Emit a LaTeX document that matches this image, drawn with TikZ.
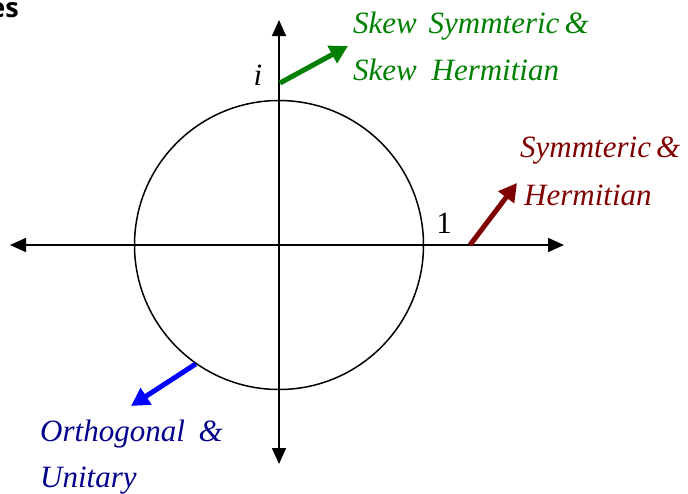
\documentclass[tikz,border=0pt]{standalone}
\usepackage{fontspec}
\setmainfont{Liberation Serif}
\newfontfamily\headfont{Open Sans}
\usetikzlibrary{arrows.meta}
\definecolor{skewgreen}{RGB}{0,128,0}
\definecolor{symred}{RGB}{128,0,0}
\definecolor{orthtext}{RGB}{0,0,140}
\definecolor{ortharrow}{RGB}{0,0,255}
\begin{document}
\begin{tikzpicture}[x=1pt,y=-1pt,
  axisline/.style={line width=1.6pt,{Triangle[length=16pt,width=14pt]}-{Triangle[length=16pt,width=14pt]}},
  pointer/.style={line width=5pt,-{Triangle[length=18pt,width=19pt]}},
  lbl/.style={anchor=base west,inner sep=0pt,font=\fontsize{31}{37}\selectfont\itshape},
  axlbl/.style={anchor=base,inner sep=0pt,font=\fontsize{31}{37}\selectfont}]
\useasboundingbox (0,0) rectangle (688,493);
\coordinate (O) at (279,245);
\coordinate (L) at (10,245);
\coordinate (R) at (564,245);
\coordinate (T) at (279,20);
\coordinate (B) at (279,464);
\draw[axisline] (L) -- (R);
\draw[axisline] (B) -- (T);
\node[circle,draw,line width=1.5pt,minimum size=289pt,inner sep=0pt] (C) at (O) {};
\node[axlbl,font=\fontsize{31}{37}\selectfont\itshape] (ilbl) at (258,85) {i};
\node[axlbl] (onelbl) at (444,233) {1};
\node[anchor=base east,inner sep=0pt,font=\headfont\bfseries\fontsize{27}{32}\selectfont] (head) at (19,17) {es};
% green
\coordinate (g0) at (280,83);
\coordinate (g1) at (348,46);
\draw[pointer,skewgreen] (g0) -- (g1);
\node[lbl,text=skewgreen] (g1a) at (353,33) {Skew\hspace{4pt} Symmteric\,\&};
\node[lbl,text=skewgreen] (g1b) at (353,80) {Skew\hspace{7pt} Hermitian};
% red
\coordinate (r0) at (470,245);
\coordinate (r1) at (517,183);
\draw[pointer,symred] (r0) -- (r1);
\node[lbl,text=symred] (r1a) at (520,157) {Symmteric\,\&};
\node[lbl,text=symred] (r1b) at (524,205) {Hermitian};
% blue
\coordinate (b0) at (C.-125.7);
\coordinate (b1) at (131,406);
\draw[pointer,ortharrow] (b0) -- (b1);
\node[lbl,text=orthtext] (b1a) at (40,441) {Orthogonal\hspace{6pt} \&};
\node[lbl,text=orthtext] (b1b) at (40,487) {Unitary};
\end{tikzpicture}
\end{document}
